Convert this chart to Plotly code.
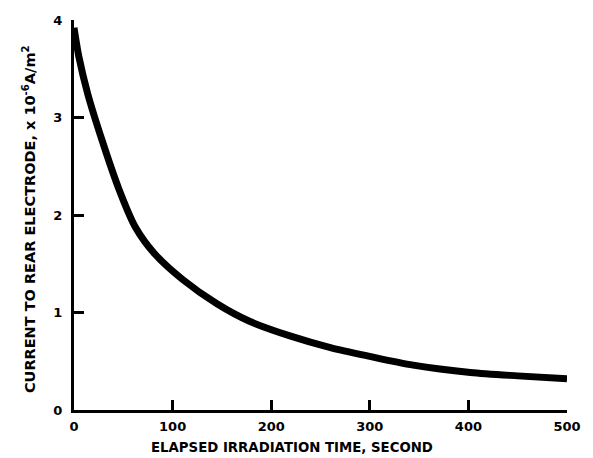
import plotly.graph_objects as go

# Rear-electrode current decay under irradiation
elapsed_time_s = [0, 5, 14, 28, 45, 62, 82, 110, 145, 178, 219, 260, 300, 344, 402, 450, 500]
current_e6_A_m2 = [3.92, 3.62, 3.24, 2.78, 2.28, 1.88, 1.60, 1.34, 1.09, 0.91, 0.76,
                   0.64, 0.55, 0.46, 0.385, 0.35, 0.32]

x_ticks = [0, 100, 200, 300, 400, 500]
y_ticks = [0, 1, 2, 3, 4]

font_family = "DejaVu Sans"

fig = go.Figure()
fig.add_trace(go.Scatter(
    x=elapsed_time_s,
    y=current_e6_A_m2,
    mode="lines",
    line=dict(color="black", width=7, shape="spline", smoothing=0.8),
    showlegend=False,
    hoverinfo="skip",
))

axis_common = dict(
    ticks="inside",
    ticklen=10,
    tickwidth=2.5,
    tickcolor="black",
    showline=True,
    linecolor="black",
    linewidth=3,
    showgrid=False,
    zeroline=False,
    tickfont=dict(family=font_family, size=13, weight="bold"),
)

fig.update_layout(
    width=593,
    height=458,
    margin=dict(l=74, r=26, t=20, b=48),
    paper_bgcolor="white",
    plot_bgcolor="white",
    font=dict(family=font_family, color="black", size=13, weight="bold"),
    xaxis=dict(
        range=[0, 500],
        tickvals=x_ticks,
        ticktext=[str(v) for v in x_ticks],
        ticklabelstandoff=2,
        **axis_common,
    ),
    yaxis=dict(
        range=[0, 4],
        tickvals=y_ticks,
        ticktext=[str(v) for v in y_ticks],
        ticklabelstandoff=6,
        **axis_common,
    ),
    annotations=[
        dict(
            text="ELAPSED IRRADIATION TIME, SECOND",
            xref="paper", yref="paper",
            x=0.442, y=-0.095,
            xanchor="center", yanchor="middle",
            showarrow=False,
            font=dict(family=font_family, size=13.3, weight="bold"),
        ),
        dict(
            text="CURRENT TO REAR ELECTRODE, x 10<sup>-6</sup>A/m<sup>2</sup>",
            xref="paper", yref="paper",
            x=-0.091, y=0.49,
            xanchor="center", yanchor="middle",
            textangle=-90,
            showarrow=False,
            font=dict(family=font_family, size=14.5, weight="bold"),
        ),
    ],
)

fig.write_html("out.html")
